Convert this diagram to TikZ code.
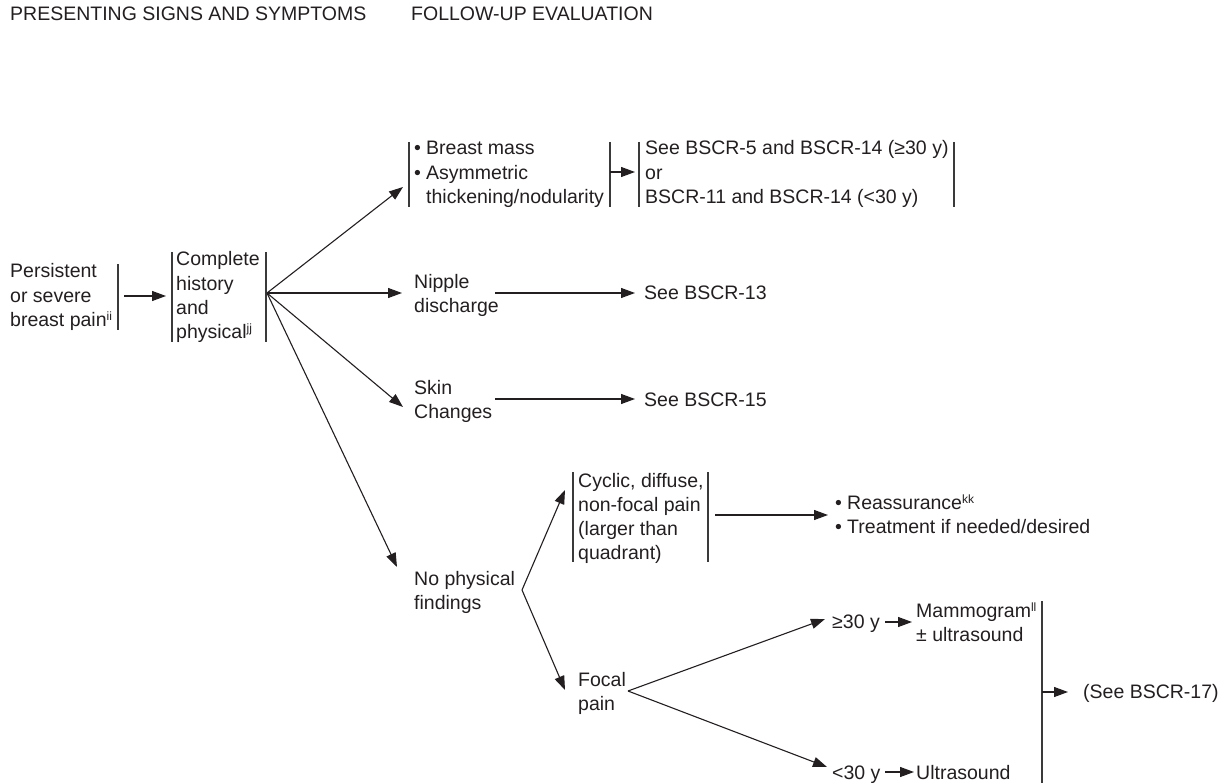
\documentclass[tikz,border=0pt]{standalone}
\usepackage{fontspec}
\setmainfont{Liberation Sans}
\usetikzlibrary{arrows.meta}
\definecolor{ink}{HTML}{231F20}
\definecolor{rulegrey}{HTML}{3A3A3A}
% small raised footnote letters
\newcommand{\supr}[1]{\raisebox{6pt}{\fontsize{12}{12}\selectfont #1}}
% bullet with a fixed hanging width
\newcommand{\bul}{\makebox[12pt][l]{•}}
% stacked lines whose reference point is the first baseline
\newcommand{\stackl}[1]{\begin{tabular}[t]{@{}l@{}}#1\end{tabular}}
\newcommand{\stackb}[1]{\begin{tabular}[t]{@{}l@{}l@{}}#1\end{tabular}}

\begin{document}
\begin{tikzpicture}[x=1pt,y=-1pt,
  txt/.style={anchor=base west, inner sep=0pt, text=ink,
              font=\fontsize{19.5}{24.3}\selectfont},
  conn/.style={draw=ink, line width=1.1pt, -{Triangle[length=14pt,width=10pt]}},
  bar/.style={draw=rulegrey, line width=1.4pt}]
\useasboundingbox (0,0) rectangle (1222,783);

% column headings
\node[txt] (hdrA) at (10,21) {PRESENTING SIGNS AND SYMPTOMS};
\node[txt] (hdrB) at (411,21) {FOLLOW-UP EVALUATION};

% text blocks
\node[txt] (pers) at (10,278) {\stackl{Persistent\\or severe\\breast pain\supr{ii}}};
\node[txt] (cplt) at (176,266) {\stackl{Complete\\history\\and\\physical\supr{jj}}};
\node[txt] (mass) at (414,155) {\stackb{\bul & Breast mass\\ \bul & Asymmetric\\ & thickening/nodularity}};
\node[txt] (see5) at (645,155) {\stackl{See BSCR-5 and BSCR-14 (≥30 y)\\or\\BSCR-11 and BSCR-14 (<30 y)}};
\node[txt] (nip) at (414,288) {\stackl{Nipple\\discharge}};
\node[txt] (see13) at (644,300) {See BSCR-13};
\node[txt] (skin) at (414,394) {\stackl{Skin\\Changes}};
\node[txt] (see15) at (644,406) {See BSCR-15};
\node[txt] (nopf) at (414,585) {\stackl{No physical\\findings}};
\node[txt] (cyc) at (578,487) {\stackl{Cyclic, diffuse,\\non-focal pain\\(larger than\\quadrant)}};
\node[txt] (reas) at (835,509) {\stackb{\bul & Reassurance\supr{kk}\\ \bul & Treatment if needed/desired}};
\node[txt] (focal) at (578,686) {\stackl{Focal\\pain}};
\node[txt] (ge30) at (832,628) {≥30 y};
\node[txt] (mammo) at (916,617) {\stackl{Mammogram\supr{ll}\\± ultrasound}};
\node[txt] (lt30) at (832,779) {<30 y};
\node[txt] (ultra) at (916,779) {Ultrasound};
\node[txt] (see17) at (1083,698) {(See BSCR-17)};

% side rules of the bracketed blocks
\draw[bar] (118,264) -- (118,330);
\draw[bar] (172,252) -- (172,342);
\draw[bar] (266,252) -- (266,342);
\draw[bar] (409,142) -- (409,207);
\draw[bar] (610,142) -- (610,207);
\draw[bar] (639,142) -- (639,207);
\draw[bar] (954,142) -- (954,207);
\draw[bar] (573,472) -- (573,562);
\draw[bar] (708,472) -- (708,562);
\draw[bar] (1042,601) -- (1042,783);

% connector end points
\coordinate (persOut) at (124,296);
\coordinate (cpltIn) at (166,296);
\coordinate (fan) at (267,293);
\coordinate (massIn) at (403,187);
\coordinate (nipIn) at (402,293);
\coordinate (skinIn) at (403,407);
\coordinate (nopfIn) at (397,567);
\coordinate (massOut) at (610,172);
\coordinate (see5In) at (635,172);
\coordinate (nipOut) at (495,293);
\coordinate (see13In) at (635,293);
\coordinate (skinOut) at (495,399);
\coordinate (see15In) at (635,399);
\coordinate (nopfV) at (522,590);
\coordinate (cycIn) at (565,490);
\coordinate (focalIn) at (565,690);
\coordinate (cycOut) at (715,515);
\coordinate (reasIn) at (828,515);
\coordinate (focalV) at (628,691);
\coordinate (ge30In) at (825,619);
\coordinate (lt30In) at (827,767);
\coordinate (ge30Out) at (885,622);
\coordinate (mammoIn) at (912,622);
\coordinate (lt30Out) at (885,772);
\coordinate (ultraIn) at (914,772);
\coordinate (joinOut) at (1042,692);
\coordinate (see17In) at (1068,692);

% connectors
\draw[conn] (persOut) -- (cpltIn);
\draw[conn] (fan) -- (massIn);
\draw[conn] (fan) -- (nipIn);
\draw[conn] (fan) -- (skinIn);
\draw[conn] (fan) -- (nopfIn);
\draw[conn] (massOut) -- (see5In);
\draw[conn] (nipOut) -- (see13In);
\draw[conn] (skinOut) -- (see15In);
\draw[conn] (nopfV) -- (cycIn);
\draw[conn] (nopfV) -- (focalIn);
\draw[conn] (cycOut) -- (reasIn);
\draw[conn] (focalV) -- (ge30In);
\draw[conn] (focalV) -- (lt30In);
\draw[conn] (ge30Out) -- (mammoIn);
\draw[conn] (lt30Out) -- (ultraIn);
\draw[conn] (joinOut) -- (see17In);
\end{tikzpicture}
\end{document}
